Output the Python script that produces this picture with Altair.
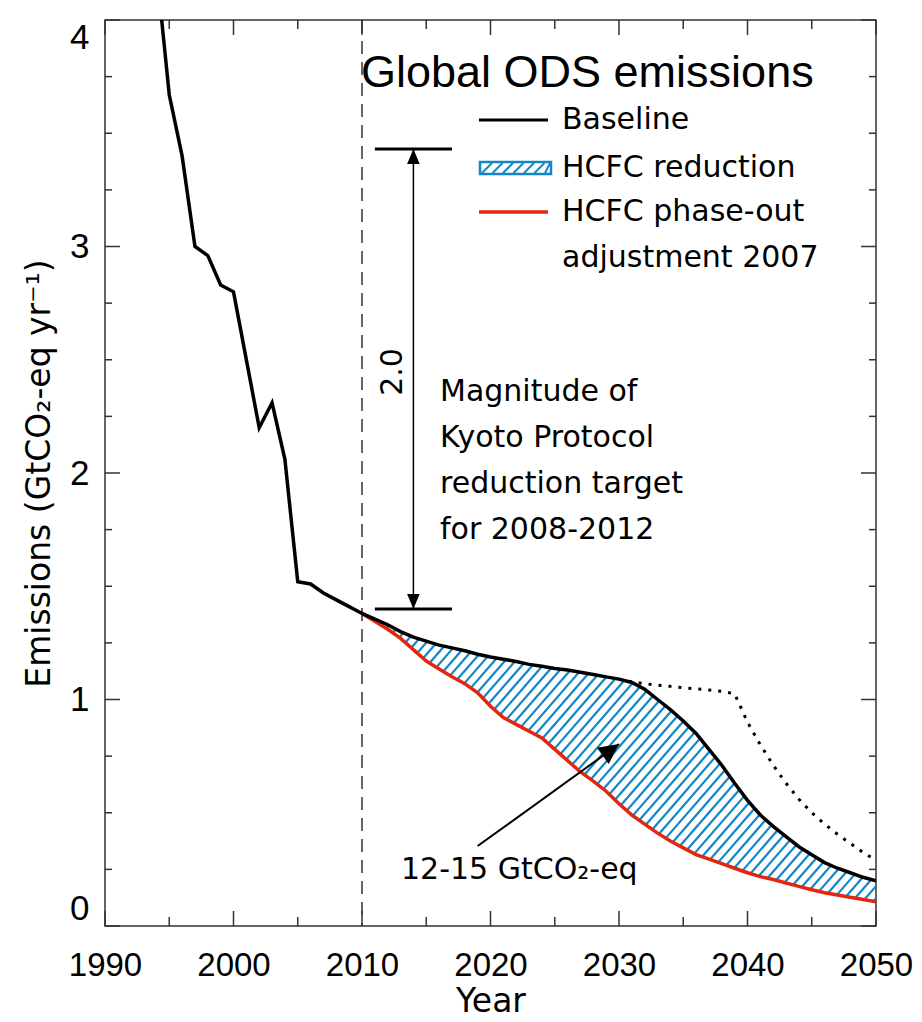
import altair as alt
import numpy as np
import pandas as pd

# ---------------- data ----------------
baseline_years = [1994, 1995, 1996, 1997, 1998, 1999, 2000, 2002, 2003, 2004, 2005,
                  2006, 2007, 2008, 2009, 2010, 2011, 2012, 2013, 2014, 2015, 2016,
                  2017, 2018, 2019, 2020, 2021, 2022, 2023, 2024, 2025, 2026, 2027,
                  2028, 2029, 2030, 2031, 2032, 2033, 2034, 2035, 2036, 2037, 2038,
                  2039, 2040, 2041, 2042, 2043, 2044, 2045, 2046, 2047, 2048, 2049, 2050]
baseline_vals = [4.23, 3.67, 3.40, 3.00, 2.96, 2.83, 2.80, 2.20, 2.31, 2.06, 1.52,
                 1.51, 1.47, 1.44, 1.41, 1.38, 1.355, 1.33, 1.30, 1.275, 1.258, 1.24,
                 1.228, 1.215, 1.20, 1.188, 1.178, 1.168, 1.155, 1.147, 1.137, 1.13, 1.12,
                 1.11, 1.10, 1.09, 1.075, 1.045, 1.00, 0.955, 0.905, 0.85, 0.78, 0.71,
                 0.63, 0.555, 0.49, 0.44, 0.395, 0.35, 0.315, 0.28, 0.255, 0.235, 0.215, 0.20]

phaseout_years = list(range(2010, 2051))
phaseout_vals = [1.38, 1.345, 1.31, 1.27, 1.22, 1.17, 1.135, 1.10, 1.07, 1.03, 0.97,
                 0.92, 0.89, 0.86, 0.83, 0.78, 0.73, 0.68, 0.64, 0.595, 0.54,
                 0.49, 0.45, 0.41, 0.375, 0.345, 0.315, 0.295, 0.275, 0.255, 0.235,
                 0.218, 0.205, 0.19, 0.175, 0.16, 0.147, 0.137, 0.127, 0.117, 0.107]

dotted_years = list(range(2030, 2051))
dotted_vals = [1.09, 1.078, 1.07, 1.063, 1.058, 1.052, 1.047, 1.042, 1.036, 1.025, 0.90,
               0.80, 0.71, 0.63, 0.56, 0.50, 0.45, 0.405, 0.365, 0.325, 0.29]

x_major = [1990, 2000, 2010, 2020, 2030, 2040, 2050]
x_minor = [1995, 2005, 2015, 2025, 2035, 2045]
y_major = [0, 1, 2, 3, 4]
y_minor = [0.25, 0.5, 0.75, 1.25, 1.5, 1.75, 2.25, 2.5, 2.75, 3.25, 3.5, 3.75]

kyoto_year = [2010]
kyoto_bar_years = [2011, 2017]
kyoto_arrow_year = 2014
kyoto_levels = [3.43, 1.40]
pointer_start = (2019.0, 0.353)
pointer_end = (2030.0, 0.803)

legend_labels = ["Baseline", "HCFC reduction", "HCFC phase-out", "adjustment 2007"]
kyoto_lines = ["Magnitude of", "Kyoto Protocol", "reduction target", "for 2008-2012"]

# ---------------- layout / style ----------------
W, H = 771, 906
BLUE = "#1287c8"
RED = "#e3260f"
FRAME = "#333333"
TXT_FONT = "DejaVu Sans"
AX_FONT = "Liberation Sans"

xs = alt.Scale(domain=[1990, 2050], nice=False, zero=False)
ys = alt.Scale(domain=[0, 4], nice=False, zero=True)

one = pd.DataFrame({"k": [0]})

base_df = pd.DataFrame({"year": baseline_years, "value": baseline_vals})
red_df = pd.DataFrame({"year": phaseout_years, "value": phaseout_vals})
dot_df = pd.DataFrame({"year": dotted_years, "value": dotted_vals})

xaxis = alt.Axis(values=x_major, format="d", ticks=False, tickSize=0, domain=False, grid=False,
                 labelFont=AX_FONT, labelFontSize=33, labelFontWeight="normal", labelColor="black",
                 labelPadding=23, labelFlush=False, labelOverlap=False,
                 title="Year", titleFont=TXT_FONT, titleFontSize=33, titleFontWeight="normal",
                 titleColor="black", titleX=W / 2, titleY=85, titleBaseline="alphabetic",
                 titleAlign="center")
yaxis = alt.Axis(values=y_major, format="d", ticks=False, tickSize=0, domain=False, grid=False,
                 labelFont=AX_FONT, labelFontSize=35, labelFontWeight="normal", labelColor="black",
                 labelPadding=16, labelFlush=True, labelOverlap=False,
                 title="Emissions (GtCO\u2082-eq yr\u207b\u00b9)", titleFont=TXT_FONT, titleFontSize=33,
                 titleFontWeight="normal", titleColor="black", titleAngle=270,
                 titleX=-56, titleY=H / 2, titleBaseline="alphabetic", titleAlign="center")


def X(field):
    return alt.X(field, scale=xs, axis=xaxis)


def Y(field):
    return alt.Y(field, scale=ys, axis=yaxis)


layers = []

# hatch lines of the HCFC reduction area, computed from the two series
k_slope = 1.15 * (W / 60) / (H / 4)   # data units per year for ~49 deg hatch
spacing = 10.5 / (W / 60)
grid = np.linspace(2010, 2050, 8001)
top = np.interp(grid, baseline_years, baseline_vals)
bot = np.interp(grid, phaseout_years, phaseout_vals)
rows = []
c = 1980.3
while c < 2050:
    yl = k_slope * (grid - c)
    m = (yl >= bot) & (yl <= top)
    if m.any():
        g = grid[m]
        rows.append({"x1": g.min(), "y1": k_slope * (g.min() - c),
                     "x2": g.max(), "y2": k_slope * (g.max() - c)})
    c += spacing
hatch_df = pd.DataFrame(rows)
layers.append(
    alt.Chart(hatch_df).mark_rule(color=BLUE, strokeWidth=2.2, clip=True).encode(
        x=X("x1:Q"), y=Y("y1:Q"), x2="x2:Q", y2="y2:Q")
)

# dashed 2010 line
layers.append(
    alt.Chart(pd.DataFrame({"x1": kyoto_year})).mark_rule(
        color=FRAME, strokeWidth=1.5, strokeDash=[13, 8]).encode(x=X("x1:Q"))
)

# dotted line
layers.append(
    alt.Chart(dot_df).mark_line(color="black", strokeWidth=3, strokeDash=[3, 7], clip=True).encode(
        x=X("year:Q"), y=Y("value:Q"))
)
# red phase-out line
layers.append(
    alt.Chart(red_df).mark_line(color=RED, strokeWidth=3.5, clip=True).encode(
        x=X("year:Q"), y=Y("value:Q"))
)
# black baseline
layers.append(
    alt.Chart(base_df).mark_line(color="black", strokeWidth=3.5, clip=True).encode(
        x=X("year:Q"), y=Y("value:Q"))
)

# Kyoto bars and double arrow
bars_df = pd.DataFrame({"x1": [kyoto_bar_years[0]] * 2, "x2": [kyoto_bar_years[1]] * 2,
                        "y1": kyoto_levels})
layers.append(
    alt.Chart(bars_df).mark_rule(color="black", strokeWidth=3).encode(
        x=X("x1:Q"), x2="x2:Q", y=Y("y1:Q"))
)
layers.append(
    alt.Chart(pd.DataFrame({"x1": [kyoto_arrow_year], "y1": [kyoto_levels[0]],
                            "y2": [kyoto_levels[1]]})).mark_rule(color="black", strokeWidth=1.5).encode(
        x=X("x1:Q"), y=Y("y1:Q"), y2="y2:Q")
)
layers.append(
    alt.Chart(pd.DataFrame({"x1": [kyoto_arrow_year], "y1": [kyoto_levels[0]]})).mark_point(
        shape="M0,0L-0.42,1L0.42,1Z", size=900, filled=True, color="black", opacity=1,
        strokeWidth=0).encode(x=X("x1:Q"), y=Y("y1:Q"))
)
layers.append(
    alt.Chart(pd.DataFrame({"x1": [kyoto_arrow_year], "y1": [kyoto_levels[1]]})).mark_point(
        shape="M0,0L-0.42,-1L0.42,-1Z", size=900, filled=True, color="black", opacity=1,
        strokeWidth=0).encode(x=X("x1:Q"), y=Y("y1:Q"))
)

# pointer arrow to the hatched area
ptr_df = pd.DataFrame({"x1": [pointer_start[0]], "y1": [pointer_start[1]],
                       "x2": [pointer_end[0]], "y2": [pointer_end[1]]})
layers.append(
    alt.Chart(ptr_df).mark_rule(color="black", strokeWidth=2).encode(
        x=X("x1:Q"), y=Y("y1:Q"), x2="x2:Q", y2="y2:Q")
)
layers.append(
    alt.Chart(ptr_df).mark_point(shape="M0,0L-0.5,1L0.5,1Z", size=1600, angle=54, filled=True,
                                 color="black", opacity=1, strokeWidth=0).encode(
        x=X("x2:Q"), y=Y("y2:Q"))
)


# inward ticks on all four sides
def yticks(vals, length):
    d = pd.DataFrame({"y1": vals})
    left = alt.Chart(d).mark_rule(color=FRAME, strokeWidth=1.5).encode(
        y=Y("y1:Q"), x=alt.value(0), x2=alt.value(length))
    right = alt.Chart(d).mark_rule(color=FRAME, strokeWidth=1.5).encode(
        y=Y("y1:Q"), x=alt.value(W - length), x2=alt.value(W))
    return [left, right]


def xticks(vals, length):
    d = pd.DataFrame({"x1": vals})
    bottom = alt.Chart(d).mark_rule(color=FRAME, strokeWidth=1.5).encode(
        x=X("x1:Q"), y=alt.value(H - length), y2=alt.value(H))
    topt = alt.Chart(d).mark_rule(color=FRAME, strokeWidth=1.5).encode(
        x=X("x1:Q"), y=alt.value(0), y2=alt.value(length))
    return [bottom, topt]


layers += yticks(y_major, 15) + yticks(y_minor, 7) + xticks(x_major, 15) + xticks(x_minor, 9)


def label(txt, x, y, size=30, font=TXT_FONT, align="left", baseline="middle", angle=None):
    kw = dict(font=font, fontSize=size, align=align, baseline=baseline, color="black")
    if angle is not None:
        kw["angle"] = angle
    return alt.Chart(one).mark_text(**kw).encode(
        x=alt.value(x), y=alt.value(y), text=alt.value(txt))


def seg(x1, y1, x2, y2, color, width):
    return alt.Chart(one).mark_rule(color=color, strokeWidth=width).encode(
        x=alt.value(x1), y=alt.value(y1), x2=alt.value(x2), y2=alt.value(y2))


# title and legend
layers.append(label("Global ODS emissions", 256, 67, size=45, font=AX_FONT, baseline="alphabetic"))
layers.append(seg(374, 100, 443, 100, "black", 3))
layers.append(seg(374, 192, 443, 192, RED, 3.5))
layers.append(alt.Chart(one).mark_rect(fill="white", stroke=BLUE, strokeWidth=2.5).encode(
    x=alt.value(375), x2=alt.value(446), y=alt.value(142), y2=alt.value(154)))
for i in range(7):
    x0 = 374 + 3 + i * 10.5
    layers.append(seg(x0, 153, min(x0 + 10, 445), 143, BLUE, 2))
for txt, yy in zip(legend_labels, [100, 148, 192, 238]):
    layers.append(label(txt, 457, yy))

# annotations
for txt, yy in zip(kyoto_lines, [372, 418, 464, 510]):
    layers.append(label(txt, 335, yy))
layers.append(label("2.0", 288, 352, angle=270, align="center"))
layers.append(label("12-15 GtCO\u2082-eq", 296, 850))

chart = alt.layer(*layers).properties(
    width=W, height=H,
    padding={"left": 97, "top": 12, "right": 38, "bottom": 94},
    autosize=alt.AutoSizeParams(type="none"),
    background="white",
).configure_view(stroke=FRAME, strokeWidth=1.5)

chart.save("out.html", embed_options={"renderer": "svg", "actions": False})
